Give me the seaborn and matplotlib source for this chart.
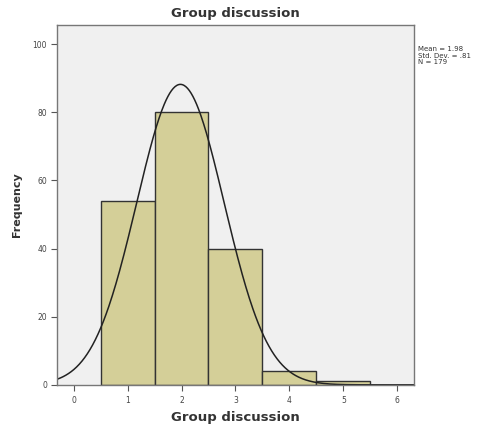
import numpy as np
import pandas as pd
import matplotlib

matplotlib.use("Agg")
import matplotlib.pyplot as plt
import seaborn as sns

# dati
punteggi = [1, 2, 3, 4, 5]
frequenze = [54, 80, 40, 4, 1]
media, dev_std, n_tot = 1.98, 0.81, 179

BARRA = "#D4CF98"
SFONDO = "#F0F0F0"

sns.set_theme(style="ticks")
plt.rcParams["font.family"] = ["DejaVu Sans"]

df = pd.DataFrame({"valore": punteggi, "freq": frequenze})

fig = plt.figure(figsize=(4.82, 4.3), dpi=100)
ax = fig.add_axes([0.118, 0.105, 0.741, 0.837])
ax.set_facecolor(SFONDO)

sns.histplot(data=df, x="valore", weights="freq", discrete=True,
             color=BARRA, alpha=1, edgecolor="#333333", linewidth=1.0, ax=ax)

xs = np.linspace(-0.31, 6.31, 400)
ys = n_tot / (dev_std * np.sqrt(2 * np.pi)) * np.exp(-0.5 * ((xs - media) / dev_std) ** 2)
ax.plot(xs, ys, color="#222222", lw=1.1)

ax.set_xlim(-0.31, 6.31)
ax.set_ylim(0, 105.6)
ax.set_xticks(range(0, 7))
ax.set_yticks(range(0, 101, 20))
ax.tick_params(axis="both", labelsize=5.5, length=4, width=0.8, color="#555555",
               direction="out", labelcolor="#444444", pad=3)
ax.tick_params(axis="x", pad=4)
for s in ax.spines.values():
    s.set_color("#777777")
    s.set_linewidth(1.0)

ax.set_xlabel("Group discussion", fontsize=9.5, weight="bold", color="#333333")
ax.xaxis.set_label_coords(0.5, -0.09)
ax.xaxis.label.set_va("center")
ax.set_ylabel("Frequency", fontsize=8, weight="bold", color="#333333")
ax.yaxis.set_label_coords(-0.112, 0.5)
ax.yaxis.label.set_va("center")
ax.set_title("Group discussion", fontsize=9.5, weight="bold", color="#333333", pad=6)

fig.text(0.867, 0.893, f"Mean = {media:.2f}\nStd. Dev. = .{int(round(dev_std * 100))}\nN = {n_tot}",
         fontsize=5, va="top", ha="left", color="#333333", linespacing=1.1)

fig.savefig("out.png", dpi=100)
